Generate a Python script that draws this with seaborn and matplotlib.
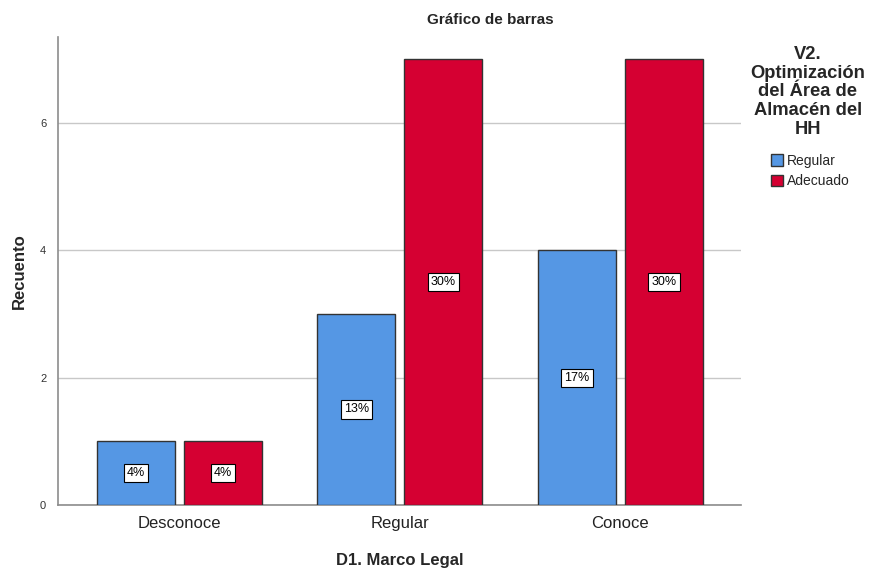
import matplotlib
matplotlib.use("Agg")
import matplotlib.pyplot as plt
import seaborn as sns
import pandas as pd
from matplotlib.patches import Patch

categories = ["Desconoce", "Regular", "Conoce"]
hue_levels = ["Regular", "Adecuado"]
regular_counts = [1, 3, 4]
adecuado_counts = [1, 7, 7]
regular_pct = ["4%", "13%", "17%"]
adecuado_pct = ["4%", "30%", "30%"]

colors = {"Regular": "#5597E4", "Adecuado": "#D50032"}

df = pd.DataFrame({
    "D1": categories * 2,
    "V2": ["Regular"] * 3 + ["Adecuado"] * 3,
    "count": regular_counts + adecuado_counts,
    "pct": regular_pct + adecuado_pct,
})

sns.set_style("white")
plt.rcParams['font.family'] = ['Liberation Sans', 'DejaVu Sans']

fig = plt.figure(figsize=(8.69, 5.69), dpi=100)
ax = fig.add_axes([58/869, 1-505/569, (741-58)/869, (505-37)/569])

sns.barplot(data=df, x="D1", y="count", hue="V2", order=categories,
            hue_order=hue_levels, palette=colors, saturation=1,
            width=0.79, gap=0.104,
            edgecolor="#333333", linewidth=1.0, ax=ax, legend=False,
            zorder=3)

ax.set_ylim(0, 7.35)
ax.set_xlim(-0.551, 2.547)
ax.set_yticks([0, 2, 4, 6])
ax.yaxis.grid(True, color="#C8C8C8", linewidth=1.0, zorder=0)
ax.set_axisbelow(True)
for s in ["top", "right"]:
    ax.spines[s].set_visible(False)
for s in ["left", "bottom"]:
    ax.spines[s].set_color("#8C8C8C")
    ax.spines[s].set_linewidth(1.2)
ax.tick_params(axis="y", labelsize=8, colors="#333333", length=5, color="#C8C8C8")
ax.tick_params(axis="x", labelsize=12, colors="#222222", length=0, pad=8)

ax.set_ylabel("Recuento", fontsize=12, fontweight="bold")
ax.yaxis.set_label_coords((27 - 58) / 683, 0.5)
ax.set_xlabel("D1. Marco Legal", fontsize=12, fontweight="bold", labelpad=16)

# percentage labels
for container, pcts in zip(ax.containers, [regular_pct, adecuado_pct]):
    for bar, p in zip(container, pcts):
        x = bar.get_x() + bar.get_width() / 2
        y = bar.get_height() / 2
        ax.text(x, y, p, ha="center", va="center", fontsize=9, color="black",
                zorder=5,
                bbox=dict(boxstyle="square,pad=0.25", facecolor="white",
                          edgecolor="black", linewidth=0.8))

fig.text(490/869, 1-20/569, "Gráfico de barras", ha="center", va="center",
         fontsize=11, fontweight="bold")

handles = [Patch(facecolor=colors[h], edgecolor="#333333", label=h) for h in hue_levels]
leg = fig.legend(handles=handles, loc="upper left",
                 bbox_to_anchor=(764/869, 1-147/569), frameon=False,
                 fontsize=10, handlelength=0.9, handleheight=0.9,
                 handletextpad=0.25, labelspacing=0.45, borderpad=0)
fig.text(808/869, 1-92/569, "V2.\nOptimización\ndel Área de\nAlmacén del\nHH",
         ha="center", va="center", fontsize=13.2, fontweight="bold",
         linespacing=1.12)

fig.savefig("out.png", dpi=100)
